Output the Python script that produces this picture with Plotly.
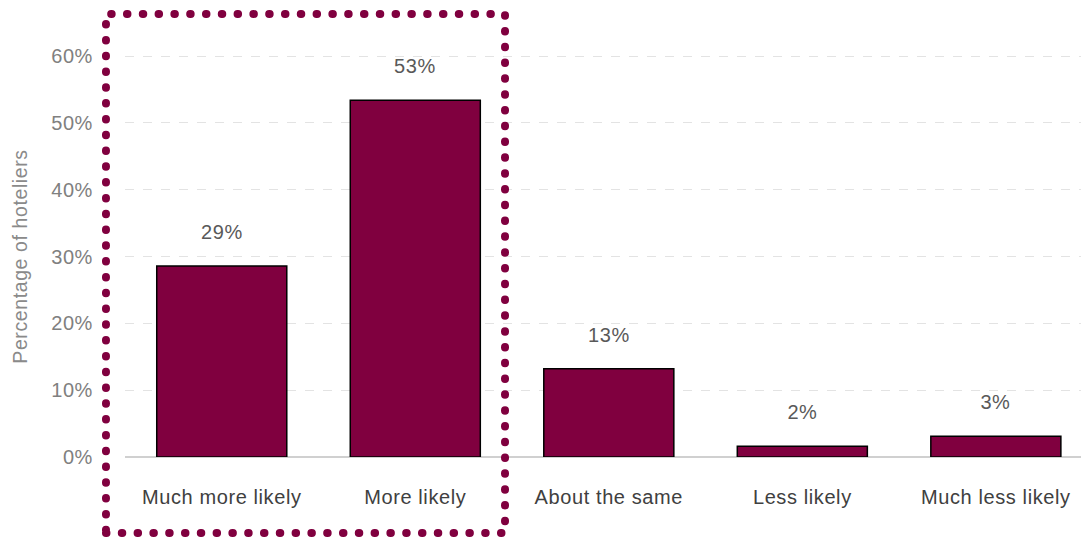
import plotly.graph_objects as go

categories = ["Much more likely", "More likely", "About the same", "Less likely", "Much less likely"]
values = [0.286, 0.534, 0.132, 0.016, 0.031]
labels = ["29%", "53%", "13%", "2%", "3%"]
yticks = [0, 0.1, 0.2, 0.3, 0.4, 0.5, 0.6]
yticklabels = ["0%", "10%", "20%", "30%", "40%", "50%", "60%"]

BAR = "#80003F"
FONT = "Liberation Sans, Arial, sans-serif"

fig = go.Figure()
fig.add_trace(go.Bar(
    x=categories, y=values, width=0.672,
    marker=dict(color=BAR, line=dict(color="#000000", width=1.5)),
    hoverinfo="skip",
))

for c, v, t in zip(categories, values, labels):
    fig.add_annotation(x=c, y=v, text=t, showarrow=False, yanchor="bottom",
                       yshift=21, font=dict(family=FONT, size=20, color="#595959"))

fig.add_annotation(xref="paper", yref="paper", x=-0.11, xanchor="center", y=0.46,
                   text="Percentage of hoteliers",
                   textangle=-90, showarrow=False, font=dict(family=FONT, size=19.5, color="#8a8a8a"))

# dotted highlight box
fig.add_shape(type="rect", xref="paper", yref="paper",
              x0=-0.0199, x1=0.3975, y0=-0.174, y1=1.0137,
              line=dict(color=BAR, width=8, dash="0.5px,15.3px"), layer="above")

fig.update_layout(
    width=1081, height=538,
    margin=dict(l=125, r=0, t=20, b=81),
    paper_bgcolor="white", plot_bgcolor="white",
    showlegend=False,
    xaxis=dict(range=[-0.5, 4.44], showgrid=False, showline=False, zeroline=False,
               tickfont=dict(family=FONT, size=20, color="#404040"), ticklabelstandoff=26,
               fixedrange=True),
    yaxis=dict(range=[0, 0.654], tickvals=yticks, ticktext=yticklabels,
               showgrid=True, gridcolor="#e3e3e3", griddash="dash", gridwidth=1,
               zeroline=True, zerolinecolor="#d0d0d0", zerolinewidth=2,
               showline=False,
               tickfont=dict(family=FONT, size=20, color="#808080"), ticklabelstandoff=31,
               fixedrange=True),
)

post = """
var st = document.createElement('style');
st.innerHTML = 'html,body{margin:0;padding:0;overflow:hidden;}' +
  '.shapelayer path{stroke-linecap:round !important;}' +
  '.xtick text,.ytick text,.annotation-text{letter-spacing:0.6px;}';
document.head.appendChild(st);
"""
fig.write_html("out.html", post_script=post, config={"displayModeBar": False})
